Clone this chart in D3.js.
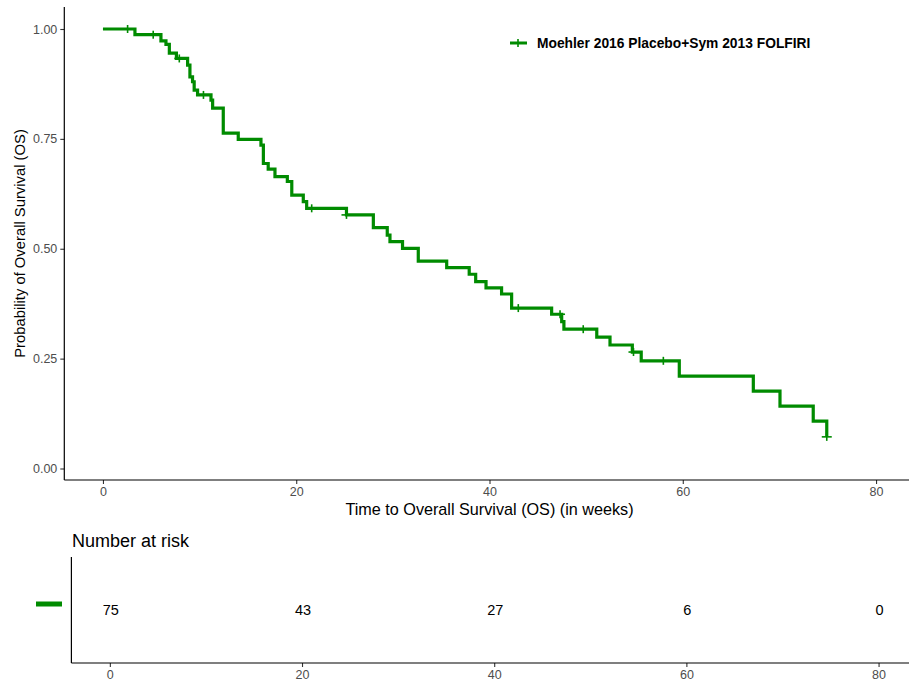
<!DOCTYPE html>
<html>
<head>
<meta charset="utf-8">
<script src="https://cdn.jsdelivr.net/npm/d3@7"></script>
<style>
  html, body { margin: 0; padding: 0; background: #fff; }
  svg { display: block; font-family: "Liberation Sans", Arial, sans-serif; }
</style>
</head>
<body>
<svg id="chart" width="909" height="686"></svg>
<script>
// Kaplan-Meier step data (weeks, survival probability after the step)
const stepTimes = [0, 3.31, 6.0, 6.52, 6.87, 7.6, 8.76, 9.0, 9.27, 9.44, 9.79, 11.18, 11.35, 12.45, 14.0,
  16.35, 16.6, 17.1, 17.8, 19.08, 19.54, 20.73, 21.08, 25.2, 27.98, 29.42, 29.7, 31.0, 32.63, 35.57,
  37.9, 38.57, 39.64, 41.25, 42.29, 46.43, 47.47, 47.7, 51.1, 52.47, 54.78, 55.7, 59.64, 67.3, 70.06,
  73.5, 74.9];
const survival = [1.0, 0.987, 0.973, 0.965, 0.945, 0.933, 0.918, 0.891, 0.880, 0.861, 0.850, 0.838, 0.820,
  0.763, 0.749, 0.736, 0.694, 0.681, 0.664, 0.653, 0.622, 0.607, 0.592, 0.577, 0.548, 0.531, 0.516, 0.501,
  0.472, 0.457, 0.442, 0.425, 0.411, 0.397, 0.365, 0.351, 0.334, 0.317, 0.299, 0.281, 0.265, 0.245, 0.210,
  0.176, 0.142, 0.108, 0.072];
// Censored observations (weeks)
const censorTimes = [2.55, 5.2, 7.9, 10.4, 21.6, 25.2, 42.98, 47.3, 49.7, 54.9, 57.99, 74.9];
// Number-at-risk table
const riskTimes = [0, 20, 40, 60, 80];
const riskCounts = [75, 43, 27, 6, 0];
const xTicks = [0, 20, 40, 60, 80];
const yTicks = [0, 0.25, 0.5, 0.75, 1.0];
const seriesName = "Moehler 2016 Placebo+Sym 2013 FOLFIRI";
const seriesColor = "#008B00";

const svg = d3.select("#chart");
const tickGrey = "#4D4D4D";

// ---------- Survival panel ----------
const x = d3.scaleLinear().domain([-4, 84]).range([64.3, 914.7]);
const y = d3.scaleLinear().domain([0, 1]).range([468.5, 29]);
const panelTop = 7, panelBottom = 480;

const data = stepTimes.map((t, i) => ({ t, s: survival[i] }));
const survAt = t => {
  let s = 1;
  for (const d of data) { if (d.t <= t) s = d.s; else break; }
  return s;
};

// Axes
const xAxis = svg.append("g").attr("transform", `translate(0,${panelBottom})`)
  .call(d3.axisBottom(x).tickValues(xTicks).tickSize(4).tickSizeOuter(0).tickPadding(3));
const yAxis = svg.append("g").attr("transform", `translate(${x.range()[0]},0)`)
  .call(d3.axisLeft(y).tickValues(yTicks).tickFormat(d3.format(".2f")).tickSize(4).tickSizeOuter(0).tickPadding(3));
[xAxis, yAxis].forEach(g => {
  g.select(".domain").remove();
  g.selectAll("line").attr("stroke", "#333").attr("stroke-width", 1.1);
  g.selectAll("text").attr("fill", tickGrey).style("font-size", "12.5px");
});
// Axis lines spanning the panel
svg.append("line").attr("x1", x.range()[0]).attr("x2", 909).attr("y1", panelBottom).attr("y2", panelBottom)
  .attr("stroke", "#000").attr("stroke-width", 1.2);
svg.append("line").attr("x1", x.range()[0]).attr("x2", x.range()[0]).attr("y1", panelTop).attr("y2", panelBottom)
  .attr("stroke", "#000").attr("stroke-width", 1.2);

// Survival curve
const line = d3.line().x(d => x(d.t)).y(d => y(d.s)).curve(d3.curveStepAfter);
svg.append("path").datum(data).attr("d", line)
  .attr("fill", "none").attr("stroke", seriesColor).attr("stroke-width", 3.2).attr("stroke-linejoin", "miter");

// Censor marks
const cross = (g, cx, cy) => {
  g.append("line").attr("x1", cx - 5).attr("x2", cx + 5).attr("y1", cy).attr("y2", cy)
    .attr("stroke", seriesColor).attr("stroke-width", 1.6);
  g.append("line").attr("x1", cx).attr("x2", cx).attr("y1", cy - 4).attr("y2", cy + 4)
    .attr("stroke", seriesColor).attr("stroke-width", 1.6);
};
const cg = svg.append("g");
censorTimes.forEach(t => cross(cg, x(t), y(survAt(t))));

// Axis titles
svg.append("text").attr("x", (x(0) + x(80)) / 2).attr("y", 515).attr("text-anchor", "middle")
  .style("font-size", "16.2px").attr("fill", "#000").text("Time to Overall Survival (OS) (in weeks)");
svg.append("text").attr("transform", `translate(25,${(panelTop + panelBottom) / 2}) rotate(-90)`)
  .attr("text-anchor", "middle").style("font-size", "14.8px").attr("fill", "#000")
  .text("Probability of Overall Survival (OS)");

// Legend
const lg = svg.append("g").attr("transform", "translate(518,43)");
lg.append("line").attr("x1", -8).attr("x2", 9).attr("y1", 0).attr("y2", 0)
  .attr("stroke", seriesColor).attr("stroke-width", 3);
cross(lg, 0, 0);
lg.append("text").attr("x", 19).attr("y", 0).attr("dy", "0.35em").style("font-size", "13.8px")
  .style("font-weight", "bold").attr("fill", "#000").text(seriesName);

// ---------- Number at risk table ----------
const xr = d3.scaleLinear().domain([-4, 84]).range([71.4, 917]);
const tTop = 557, tBottom = 663, rowY = 610;

svg.append("text").attr("x", 72).attr("y", 547).style("font-size", "18px").attr("fill", "#000")
  .text("Number at risk");

const trAxis = svg.append("g").attr("transform", `translate(0,${tBottom})`)
  .call(d3.axisBottom(xr).tickValues(xTicks).tickSize(4).tickSizeOuter(0).tickPadding(3));
trAxis.select(".domain").remove();
trAxis.selectAll("line").attr("stroke", "#333").attr("stroke-width", 1.1);
trAxis.selectAll("text").attr("fill", tickGrey).style("font-size", "12.5px");
svg.append("line").attr("x1", xr.range()[0]).attr("x2", 909).attr("y1", tBottom).attr("y2", tBottom)
  .attr("stroke", "#000").attr("stroke-width", 1.2);
svg.append("line").attr("x1", xr.range()[0]).attr("x2", xr.range()[0]).attr("y1", tTop).attr("y2", tBottom)
  .attr("stroke", "#000").attr("stroke-width", 1.2);

svg.append("g").selectAll("text").data(riskTimes).join("text")
  .attr("x", (d, i) => xr(d) + 1).attr("y", rowY).attr("dy", "0.35em").attr("text-anchor", "middle")
  .style("font-size", "14.5px").attr("fill", "#000").text((d, i) => riskCounts[i]);

svg.append("rect").attr("x", 36).attr("y", 601.5).attr("width", 26).attr("height", 5)
  .attr("fill", seriesColor);
</script>
</body>
</html>
